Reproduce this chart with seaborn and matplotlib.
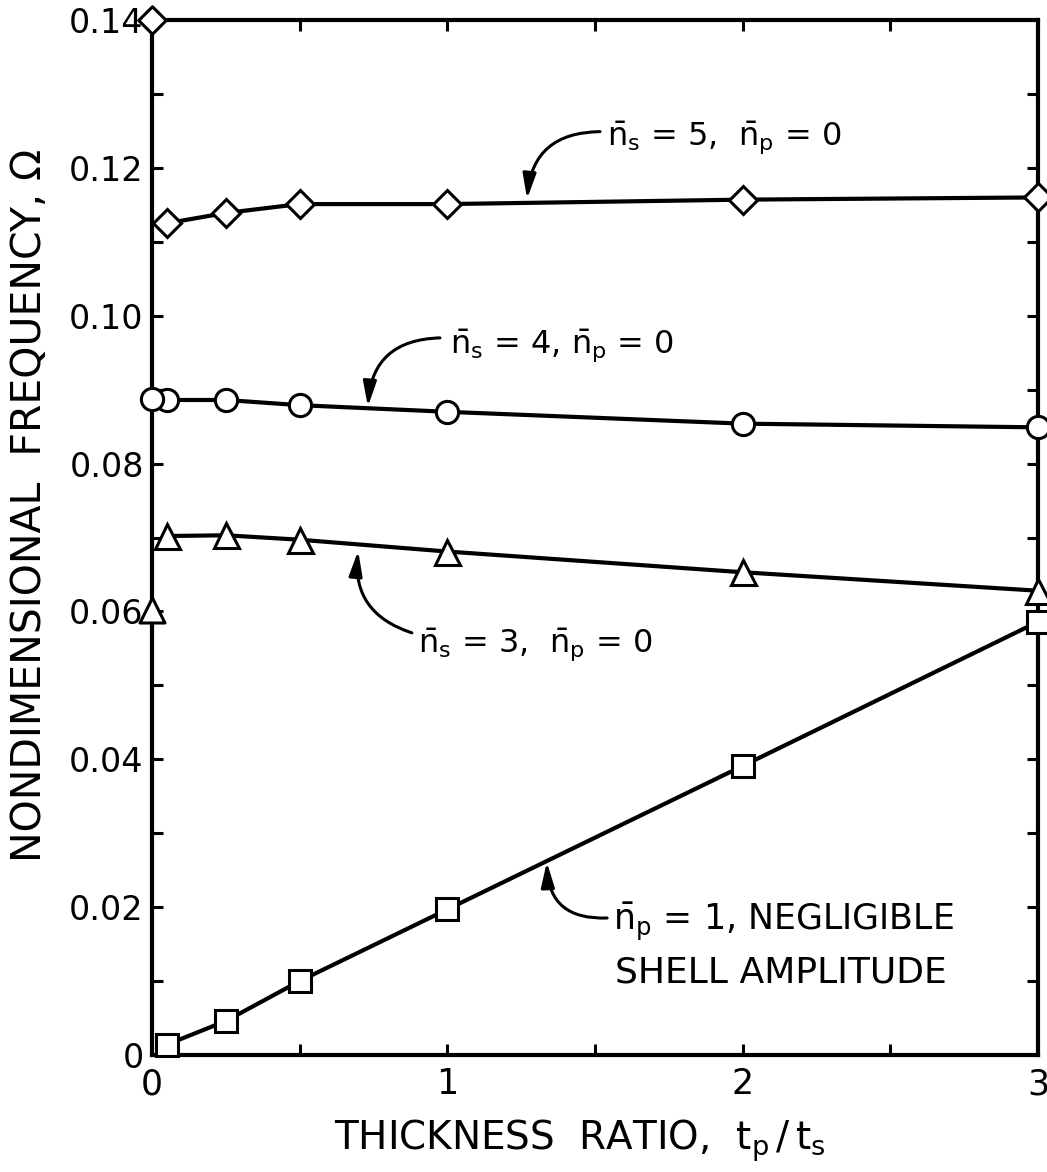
import numpy as np
import pandas as pd
import matplotlib
matplotlib.use("Agg")
import matplotlib.pyplot as plt
import seaborn as sns

# ---------------- data ----------------
thickness_ratio = [0.05, 0.25, 0.5, 1.0, 2.0, 3.0]
omega_ns5 = [0.1125, 0.1139, 0.1151, 0.1151, 0.1157, 0.1160]
omega_ns4 = [0.0886, 0.0886, 0.0879, 0.0870, 0.0854, 0.0849]
omega_ns3 = [0.0702, 0.0703, 0.0697, 0.0681, 0.0653, 0.0628]
omega_np1 = [0.0014, 0.0046, 0.0100, 0.0197, 0.0391, 0.0586]

# limiting values at t_p/t_s = 0 (plotted as isolated symbols)
zero_ratio = [0.0]
omega0_ns5 = [0.140]
omega0_ns4 = [0.0887]
omega0_ns3 = [0.0602]

x_ticks = [0, 1, 2, 3]
x_tick_labels = ["0", "1", "2", "3"]
y_ticks = [0, 0.02, 0.04, 0.06, 0.08, 0.10, 0.12, 0.14]
y_tick_labels = ["0", "0.02", "0.04", "0.06", "0.08", "0.10", "0.12", "0.14"]

label_ns5 = r"$\bar{n}_s$ = 5,  $\bar{n}_p$ = 0"
label_ns4 = r"$\bar{n}_s$ = 4, $\bar{n}_p$ = 0"
label_ns3 = r"$\bar{n}_s$ = 3,  $\bar{n}_p$ = 0"
label_np1_a = r"$\bar{n}_p$ = 1, NEGLIGIBLE"
label_np1_b = "SHELL AMPLITUDE"
x_label = r"THICKNESS  RATIO,  $t_p\,/\,t_s$"
y_label = "NONDIMENSIONAL  FREQUENCY, Ω"

# ---------------- style ----------------
sns.set_theme(style="ticks", rc={
    "axes.edgecolor": "black",
    "xtick.color": "black",
    "ytick.color": "black",
    "text.color": "black",
    "axes.labelcolor": "black",
})
plt.rcParams["font.family"] = ["DejaVu Sans"]
plt.rcParams["mathtext.default"] = "regular"

fig = plt.figure(figsize=(10.47, 11.72), dpi=100)
ax = fig.add_axes([152 / 1047, 1 - 1055 / 1172, 886 / 1047, 1035 / 1172])

series = [
    (omega_ns5, "D", 14.0),
    (omega_ns4, "o", 16.0),
    (omega_ns3, "^", 18.0),
    (omega_np1, "s", 16.0),
]
for ys, mk, ms in series:
    sns.lineplot(x=thickness_ratio, y=ys, ax=ax, color="black", lw=3.0,
                 marker=mk, markersize=ms, markerfacecolor="white",
                 markeredgecolor="black", markeredgewidth=2.2,
                 clip_on=False, zorder=3)

for ys, mk, ms in [(omega0_ns5, "D", 14.0), (omega0_ns4, "o", 16.0), (omega0_ns3, "^", 18.0)]:
    sns.scatterplot(x=zero_ratio, y=ys, ax=ax, marker=mk, s=ms ** 2,
                    facecolor="white", edgecolor="black", linewidth=2.2,
                    clip_on=False, zorder=4)

ax.set_xlim(0, 3)
ax.set_ylim(0, 0.14)

ax.set_xticks(x_ticks)
ax.set_xticklabels(x_tick_labels, fontsize=25)
ax.set_xticks([0.5, 1.5, 2.5], minor=True)
ax.set_yticks(y_ticks)
ax.set_yticklabels(y_tick_labels, fontsize=24)
ax.set_yticks([0.01, 0.03, 0.05, 0.07, 0.09, 0.11, 0.13], minor=True)
ax.tick_params(which="both", direction="in", length=8, width=2.2,
               top=True, right=True)
ax.tick_params(axis="x", which="major", pad=9)
ax.tick_params(axis="y", which="major", pad=6)
for sp in ax.spines.values():
    sp.set_visible(True)
    sp.set_linewidth(3)
    sp.set_color("black")

ax.set_xlabel(x_label, fontsize=28)
ax.xaxis.set_label_coords(0.483, -0.060)
ax.set_ylabel(y_label, fontsize=29.5)
ax.yaxis.set_label_coords(-0.115, 0.531)

# ---------------- annotations ----------------
txt_kw = dict(fontsize=23, ha="left", va="baseline")
ax.text(1.541, 0.1231, label_ns5, **txt_kw)
ax.text(1.009, 0.0950, label_ns4, **txt_kw)
ax.text(0.901, 0.0546, label_ns3, **txt_kw)
ax.text(1.561, 0.0169, label_np1_a, fontsize=25, ha="left", va="baseline")
ax.text(1.568, 0.00987, label_np1_b, fontsize=26, ha="left", va="baseline")

arrow_style = "-|>,head_length=0.75,head_width=0.2"
arrows = [
    ((1.270, 0.1158), (1.517, 0.1249), 0.45),
    ((0.731, 0.0877), (0.975, 0.0970), 0.45),
    ((0.698, 0.0682), (0.880, 0.0571), -0.40),
    ((1.337, 0.0261), (1.541, 0.01853), -0.50),
]
for xy, xyt, rad in arrows:
    ax.annotate("", xy=xy, xytext=xyt,
                arrowprops=dict(arrowstyle=arrow_style,
                                connectionstyle=f"arc3,rad={rad}",
                                color="black", lw=2.2, shrinkA=0, shrinkB=0,
                                mutation_scale=20))

fig.savefig("out.png", dpi=100)
